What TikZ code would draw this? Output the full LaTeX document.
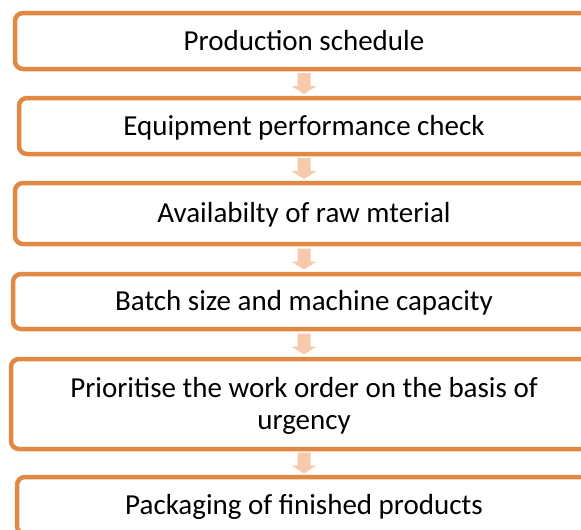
\documentclass[tikz,border=0pt]{standalone}
\usepackage{fontspec}
\setmainfont{Carlito}
\usetikzlibrary{calc}
\definecolor{boxline}{RGB}{225,137,66}
\definecolor{arrowfill}{RGB}{248,201,171}
\begin{document}
\begin{tikzpicture}[x=1pt,y=-1pt,
  box/.style={draw=boxline, line width=4.5pt, rounded corners=8pt, fill=white,
    inner sep=0pt, font=\fontsize{29}{32}\selectfont, text=black,
    text height=18.7pt, text depth=0pt},
  twoline/.style={align=center, text height=50.7pt, text depth=0pt},
  downarr/.pic={\fill[arrowfill] (-6.5,-10.5) -- (6.5,-10.5) -- (6.5,2.5) -- (12.5,2.5)
    -- (0,10.5) -- (-12.5,2.5) -- (-6.5,2.5) -- cycle;}]
\clip (0,0) rectangle (581,530);
\fill[white] (0,0) rectangle (581,530);
\node[box, minimum width=578pt, minimum height=56pt] (b1) at (304,41) {Production schedule};
\node[box, minimum width=570pt, minimum height=56pt] (b2) at (304,126) {Equipment performance check};
\node[box, minimum width=578pt, minimum height=61pt] (b3) at (304,213.5) {Availabilty of raw mterial};
\node[box, minimum width=582pt, minimum height=55pt] (b4) at (304,301.5) {Batch size and machine capacity};
\node[box, twoline, minimum width=586pt, minimum height=90pt] (b5) at (304,404) {Prioritise the work order on the basis of\\urgency};
\node[box, minimum width=574pt, minimum height=57pt] (b6) at (304,505.5) {Packaging of finished products};
\pic (a1) at ($(b1.south)!0.5!(b2.north)$) {downarr};
\pic (a2) at ($(b2.south)!0.5!(b3.north)$) {downarr};
\pic (a3) at ($(b3.south)!0.5!(b4.north)$) {downarr};
\pic (a4) at ($(b4.south)!0.5!(b5.north)$) {downarr};
\pic (a5) at ($(b5.south)!0.5!(b6.north)$) {downarr};
\end{tikzpicture}
\end{document}
